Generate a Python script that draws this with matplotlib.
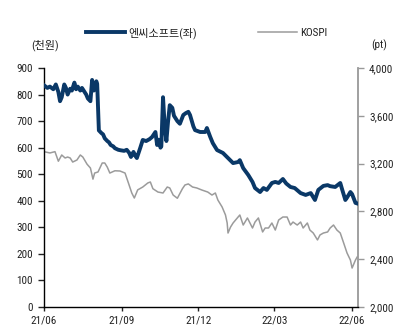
import matplotlib
matplotlib.use("Agg")
import matplotlib.pyplot as plt
import matplotlib.dates as mdates
from matplotlib.ticker import FuncFormatter, MultipleLocator
import pandas as pd

plt.rcParams['font.family'] = ['Roboto Condensed', 'Archivo Narrow', 'Liberation Sans', 'Noto Sans CJK KR', 'DejaVu Sans']

nc_dates = [
    "2021-06-01", "2021-06-05", "2021-06-08", "2021-06-12", "2021-06-15", "2021-06-18",
    "2021-06-20", "2021-06-22", "2021-06-25", "2021-06-27", "2021-06-29", "2021-07-02",
    "2021-07-04", "2021-07-07", "2021-07-09", "2021-07-11", "2021-07-14", "2021-07-16",
    "2021-07-18", "2021-07-21", "2021-07-23", "2021-07-26", "2021-07-28", "2021-07-30",
    "2021-08-02", "2021-08-03", "2021-08-05", "2021-08-08", "2021-08-10", "2021-08-12",
    "2021-08-15", "2021-08-17", "2021-08-19", "2021-08-22", "2021-08-24", "2021-08-28",
    "2021-08-31", "2021-09-04", "2021-09-07", "2021-09-10", "2021-09-12", "2021-09-15",
    "2021-09-17", "2021-09-19", "2021-09-23", "2021-09-26", "2021-09-30", "2021-10-04",
    "2021-10-07", "2021-10-11", "2021-10-13", "2021-10-15", "2021-10-17", "2021-10-18",
    "2021-10-20", "2021-10-22", "2021-10-24", "2021-10-26", "2021-10-28", "2021-10-31",
    "2021-11-02", "2021-11-06", "2021-11-09", "2021-11-13", "2021-11-16", "2021-11-19",
    "2021-11-21", "2021-11-25", "2021-11-27", "2021-12-03", "2021-12-09", "2021-12-11",
    "2021-12-15", "2021-12-18", "2021-12-23", "2021-12-30", "2022-01-05", "2022-01-11",
    "2022-01-17", "2022-01-19", "2022-01-23", "2022-01-29", "2022-02-03", "2022-02-06",
    "2022-02-12", "2022-02-16", "2022-02-20", "2022-02-26", "2022-03-02", "2022-03-06",
    "2022-03-11", "2022-03-15", "2022-03-20", "2022-03-25", "2022-04-01", "2022-04-07",
    "2022-04-13", "2022-04-18", "2022-04-22", "2022-04-28", "2022-05-03", "2022-05-06",
    "2022-05-12", "2022-05-18", "2022-05-20", "2022-05-24", "2022-05-26", "2022-05-30",
    "2022-06-01", "2022-06-05", "2022-06-07",
]
nc_values = [
    835, 825, 830, 820, 838, 810,
    775, 790, 838, 825, 800, 822,
    815, 845, 820, 830, 815, 825,
    815, 800, 785, 775, 855, 815,
    850, 840, 665, 655, 650, 635,
    625, 620, 610, 605, 598, 592,
    590, 588, 592, 580, 565, 584,
    570, 561, 599, 629, 625, 632,
    640, 659, 610, 630, 600, 605,
    790, 680, 625, 700, 760, 750,
    720, 700, 690, 723, 730, 735,
    723, 680, 666, 659, 659, 674,
    640, 617, 591, 580, 561, 542,
    546, 553, 523, 497, 471, 448,
    433, 448, 441, 467, 471, 467,
    482, 465, 452, 448, 429, 422,
    429, 403, 441, 456, 459, 455,
    452, 467, 445, 403, 412, 433,
    425, 392, 390,
]

kospi_dates = [
    "2021-06-01", "2021-06-08", "2021-06-14", "2021-06-18", "2021-06-22", "2021-06-26",
    "2021-06-29", "2021-07-02", "2021-07-05", "2021-07-10", "2021-07-14", "2021-07-17",
    "2021-07-22", "2021-07-26", "2021-07-29", "2021-07-31", "2021-08-04", "2021-08-09",
    "2021-08-12", "2021-08-15", "2021-08-18", "2021-08-24", "2021-08-30", "2021-09-05",
    "2021-09-09", "2021-09-13", "2021-09-16", "2021-09-20", "2021-09-26", "2021-10-02",
    "2021-10-05", "2021-10-08", "2021-10-14", "2021-10-20", "2021-10-25", "2021-10-28",
    "2021-11-01", "2021-11-06", "2021-11-12", "2021-11-15", "2021-11-19", "2021-11-24",
    "2021-11-29", "2021-12-05", "2021-12-12", "2021-12-17", "2021-12-21", "2021-12-24",
    "2021-12-29", "2022-01-02", "2022-01-04", "2022-01-05", "2022-01-08", "2022-01-11",
    "2022-01-16", "2022-01-19", "2022-01-23", "2022-01-28", "2022-02-03", "2022-02-06",
    "2022-02-10", "2022-02-15", "2022-02-18", "2022-02-22", "2022-02-26", "2022-03-02",
    "2022-03-06", "2022-03-11", "2022-03-16", "2022-03-20", "2022-03-23", "2022-03-28",
    "2022-04-01", "2022-04-04", "2022-04-09", "2022-04-12", "2022-04-16", "2022-04-21",
    "2022-04-24", "2022-04-28", "2022-05-03", "2022-05-06", "2022-05-10", "2022-05-14",
    "2022-05-18", "2022-05-22", "2022-05-26", "2022-05-30", "2022-06-01", "2022-06-05",
    "2022-06-07",
]
kospi_values = [
    3300, 3289, 3300, 3220, 3272, 3247,
    3255, 3247, 3213, 3230, 3272, 3255,
    3195, 3163, 3070, 3121, 3130, 3205,
    3205, 3170, 3121, 3140, 3138, 3121,
    3038, 2954, 2912, 2980, 3004, 3038,
    3046, 2990, 2962, 2954, 3004, 2996,
    2937, 2910, 2990, 3021, 3030, 3004,
    2996, 2979, 2962, 2937, 2954, 2895,
    2837, 2770, 2703, 2619, 2669, 2703,
    2745, 2770, 2686, 2745, 2661, 2711,
    2745, 2628, 2661, 2661, 2703, 2644,
    2728, 2753, 2753, 2686, 2711, 2686,
    2711, 2661, 2703, 2644, 2619, 2561,
    2603, 2619, 2628, 2661, 2686, 2644,
    2619, 2536, 2452, 2393, 2326, 2393,
    2418,
]

left_label = "(천원)"
right_label = "(pt)"
nc_name = "엔씨소프트(좌)"
kospi_name = "KOSPI"

nc_color = "#0a3867"
kospi_color = "#9b9b9b"
text_color = "#222222"
fs = 8

nc = pd.Series(nc_values, index=pd.to_datetime(nc_dates))
ks = pd.Series(kospi_values, index=pd.to_datetime(kospi_dates))

fig = plt.figure(figsize=(3.93, 3.32), dpi=100)
ax = fig.add_axes([44 / 393, 25 / 332, 314 / 393, 239 / 332])
ax2 = ax.twinx()

l1, = ax.plot(nc.index, nc.values, color=nc_color, lw=2.8, solid_joinstyle='round', zorder=3)
l2, = ax2.plot(ks.index, ks.values, color=kospi_color, lw=1.1, zorder=2)
ax.set_zorder(ax2.get_zorder() + 1)
ax.patch.set_visible(False)

ax.set_ylim(0, 900)
ax.yaxis.set_major_locator(MultipleLocator(100))
ax2.set_ylim(2000, 4000)
ax2.yaxis.set_major_locator(MultipleLocator(400))
ax2.yaxis.set_major_formatter(FuncFormatter(lambda v, p: f"{int(v):,}"))

ax.set_xlim(pd.Timestamp("2021-06-01"), pd.Timestamp("2022-06-08"))
ax.xaxis.set_major_locator(mdates.MonthLocator(bymonth=[3, 6, 9, 12]))
ax.xaxis.set_major_formatter(mdates.DateFormatter("%y/%m"))

for a in (ax, ax2):
    a.spines['top'].set_visible(False)
ax.spines['right'].set_visible(False)
ax2.spines['left'].set_visible(False)
ax2.spines['bottom'].set_visible(False)
ax2.spines['right'].set_color("#999999")
ax2.spines['right'].set_linewidth(1.3)
ax.spines['left'].set_linewidth(1.0)
ax.spines['bottom'].set_linewidth(1.0)

ax.tick_params(axis='y', direction='out', length=4, width=1, labelsize=fs, pad=4, colors=text_color)
ax.tick_params(axis='x', direction='out', length=3, width=1, labelsize=fs, pad=3, colors=text_color)
ax2.tick_params(axis='y', direction='out', length=4, width=1, labelsize=fs, pad=4, colors=text_color)
ax2.tick_params(axis='y', color='#999999')

fig.text(45 / 393, 1 - 45 / 332, left_label, ha='center', va='center', fontsize=fs, color=text_color)
fig.text(379 / 393, 1 - 45 / 332, right_label, ha='center', va='center', fontsize=fs, color=text_color)

leg = fig.legend([l1, l2], [nc_name, kospi_name], loc='center', bbox_to_anchor=(207 / 393, 1 - 33 / 332),
                 ncol=2, frameon=False, fontsize=fs, handlelength=3.5, handletextpad=0.3,
                 columnspacing=5.5, borderpad=0)
for t in leg.get_texts():
    t.set_color(text_color)

fig.savefig("out.png", dpi=100)
